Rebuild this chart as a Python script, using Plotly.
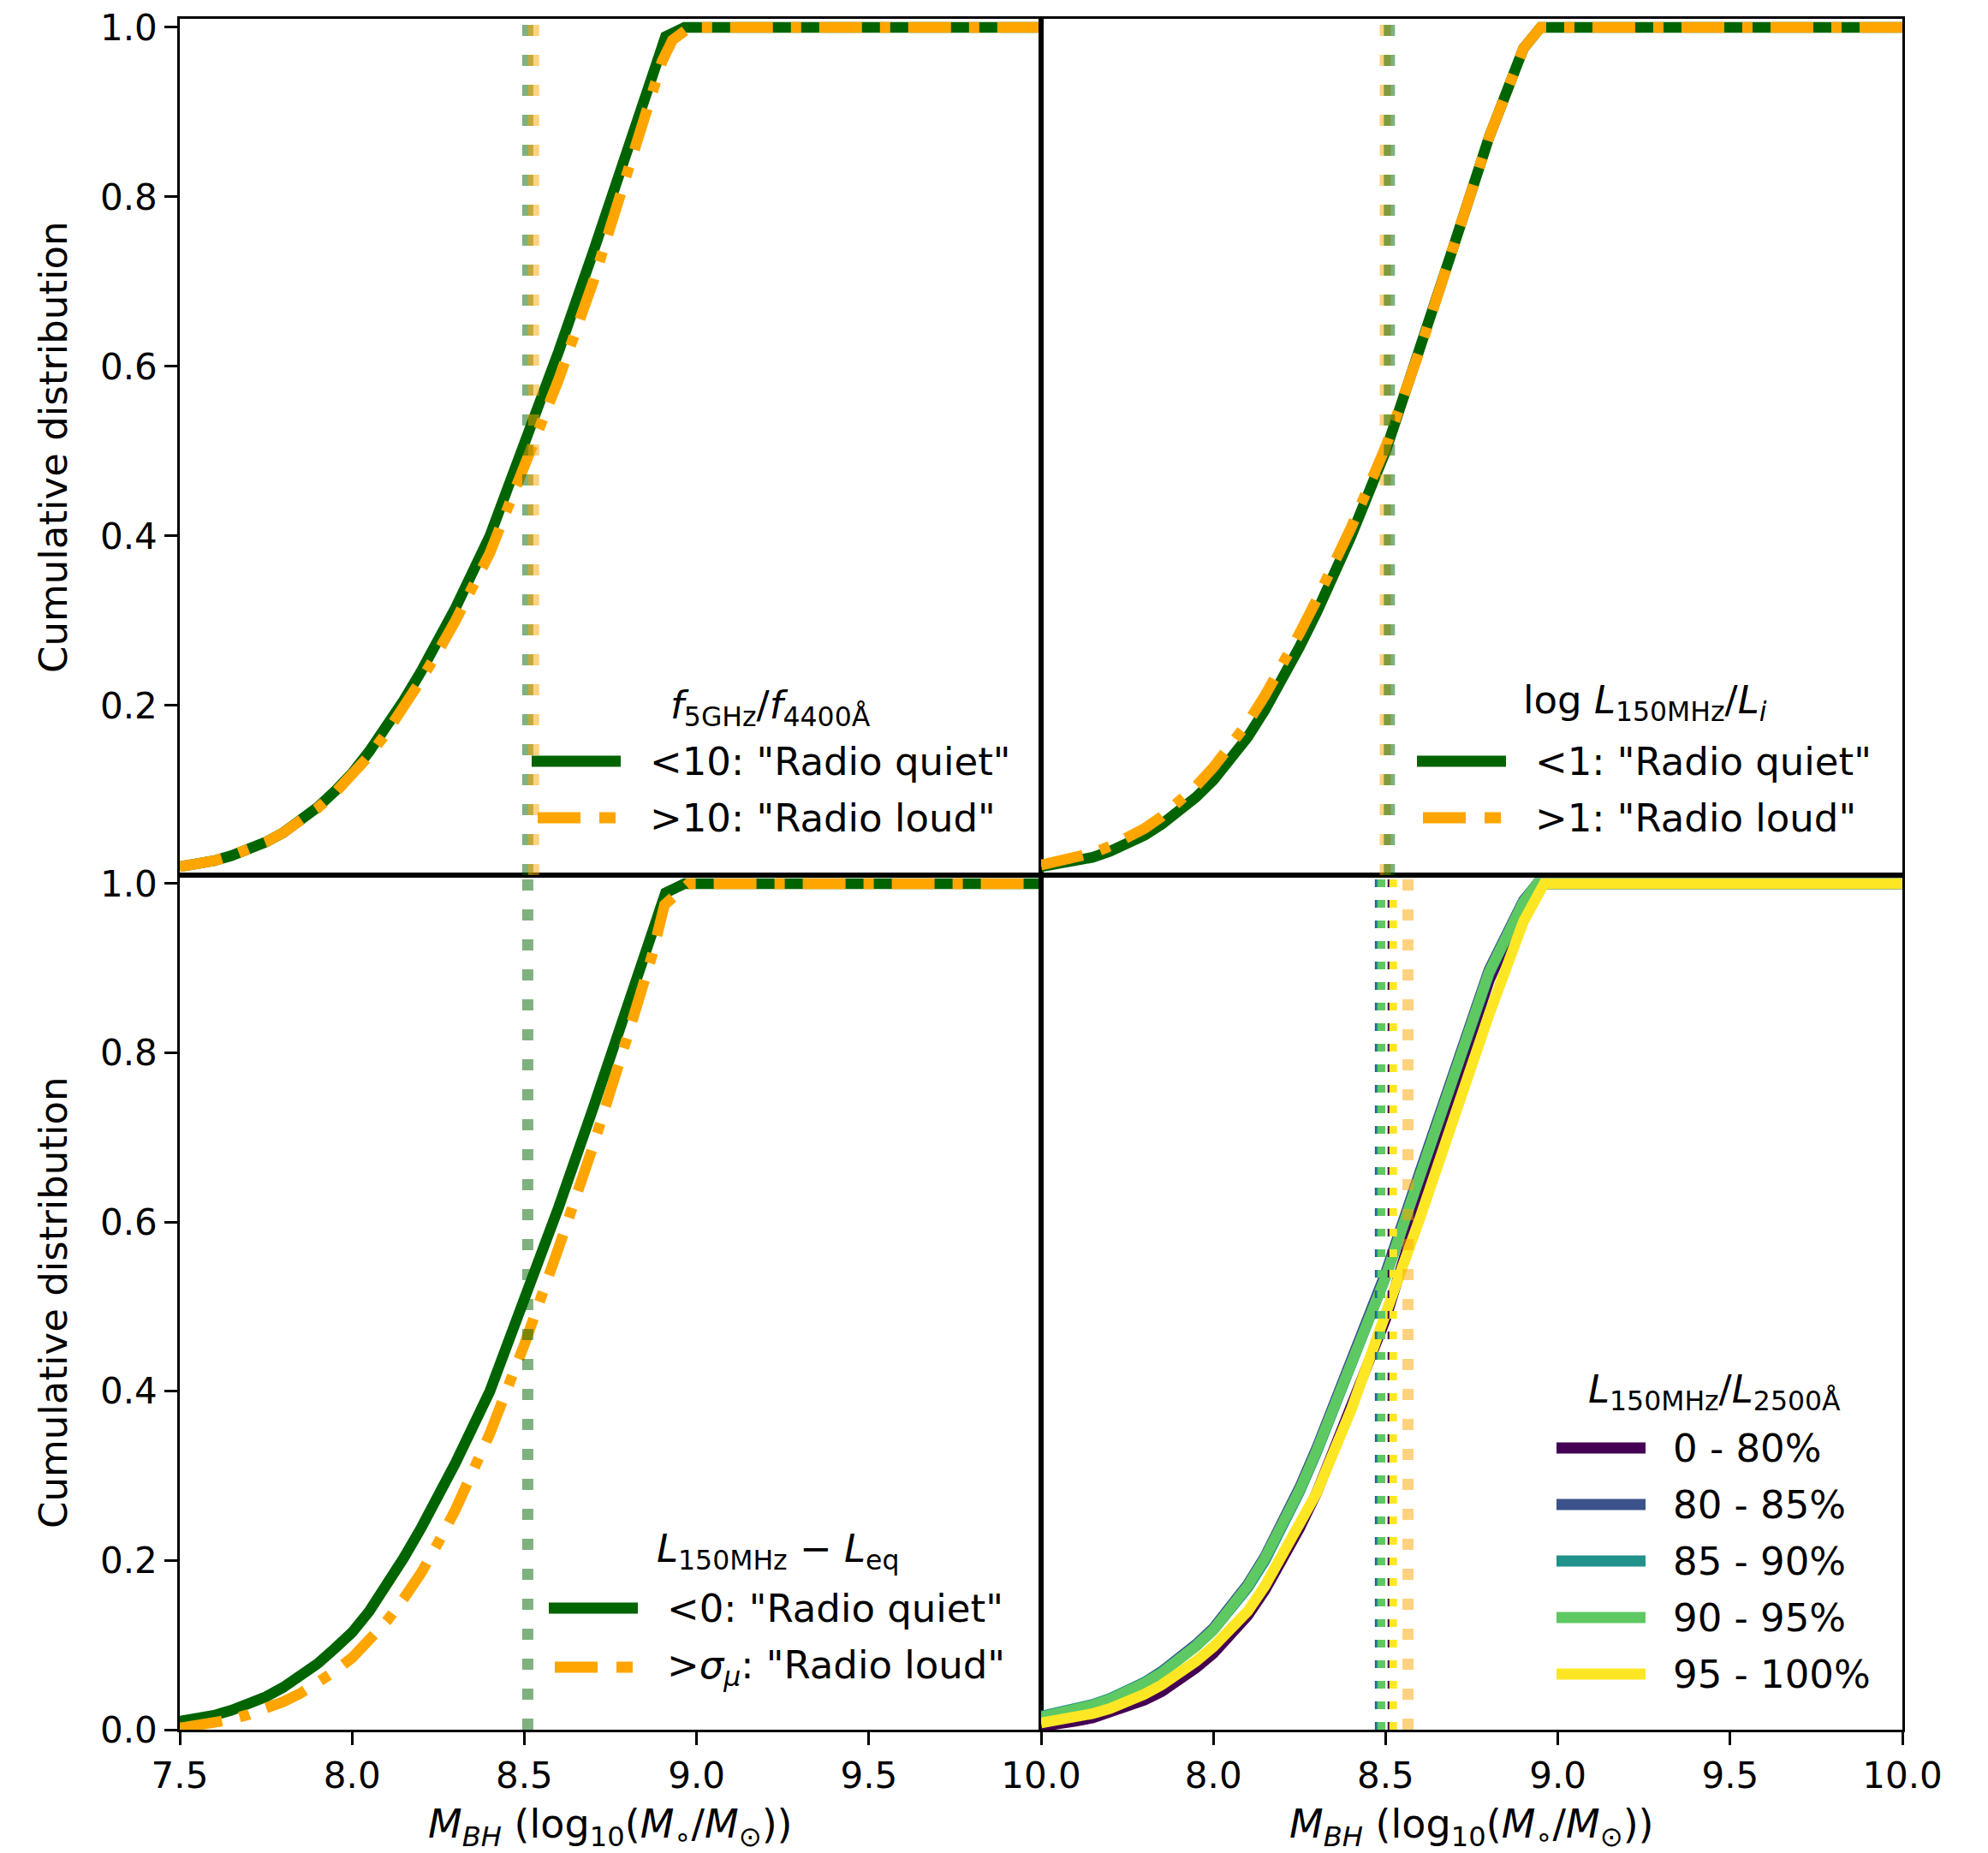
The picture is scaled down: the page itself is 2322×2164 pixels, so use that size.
import plotly.graph_objects as go

W, H = 2322, 2164

# ---------------- data ----------------
fine = [7.5, 7.55, 7.6, 7.65, 7.7, 7.75, 7.8, 7.85, 7.9, 7.95, 8.0, 8.05, 8.1, 8.15,
        8.2, 8.25, 8.3, 8.4, 8.5, 8.6, 8.7, 8.8]

# top-left: f5GHz/f4400A
tl_green_x = fine + [8.86, 8.91, 8.965, 10.0]
tl_green_y = [0.010, 0.013, 0.017, 0.023, 0.030, 0.039, 0.050, 0.064, 0.080, 0.099,
              0.120, 0.146, 0.175, 0.206, 0.240, 0.277, 0.315, 0.400, 0.505, 0.618,
              0.735, 0.860, 0.932, 0.989, 1.0, 1.0]
tl_orange_x = fine + [8.9, 8.93, 8.98, 10.0]
tl_orange_y = [0.010, 0.013, 0.017, 0.023, 0.030, 0.039, 0.050, 0.063, 0.079, 0.097,
               0.117, 0.141, 0.168, 0.197, 0.230, 0.264, 0.300, 0.380, 0.480, 0.585,
               0.700, 0.825, 0.960, 0.985, 1.0, 1.0]
tl_medians = [8.510, 8.527]

# top-right: log L150MHz/Li
tr_green_x = fine + [8.9, 8.95, 10.0]
tr_green_y = [0.010, 0.013, 0.016, 0.021, 0.028, 0.036, 0.047, 0.060, 0.075, 0.092,
              0.112, 0.136, 0.163, 0.195, 0.230, 0.269, 0.310, 0.400, 0.500, 0.620,
              0.745, 0.870, 0.975, 1.0, 1.0]
tr_orange_x = fine + [8.9, 8.95, 10.0]
tr_orange_y = [0.012, 0.016, 0.020, 0.026, 0.034, 0.043, 0.055, 0.069, 0.086, 0.105,
               0.127, 0.152, 0.180, 0.212, 0.247, 0.285, 0.325, 0.410, 0.505, 0.620,
               0.745, 0.870, 0.975, 1.0, 1.0]
tr_medians = [8.511, 8.499]

# bottom-left: L150MHz - Leq
bl_green_x = fine + [8.86, 8.91, 8.965, 10.0]
bl_green_y = [0.010, 0.013, 0.017, 0.023, 0.030, 0.039, 0.050, 0.063, 0.078, 0.096,
              0.115, 0.140, 0.170, 0.203, 0.238, 0.276, 0.315, 0.400, 0.505, 0.618,
              0.735, 0.860, 0.930, 0.989, 1.0, 1.0]
bl_orange_x = fine + [8.87, 8.907, 8.977, 10.0]
bl_orange_y = [0.002, 0.005, 0.008, 0.012, 0.018, 0.025, 0.033, 0.043, 0.055, 0.069,
               0.085, 0.105, 0.128, 0.155, 0.185, 0.221, 0.260, 0.350, 0.455, 0.570,
               0.690, 0.820, 0.914, 0.975, 1.0, 1.0]
bl_medians = [8.510]

# bottom-right: L150MHz/L2500A percentile bins
br_labels = ["0 - 80%", "80 - 85%", "85 - 90%", "90 - 95%", "95 - 100%"]
br_colors = ["#440154", "#3b528b", "#21918c", "#5ec962", "#fde725"]
br_x = [fine + [8.9, 8.94, 10.0]] * 4 + [fine + [8.9, 8.96, 10.0]]
br_y = [
    [0.004, 0.006, 0.010, 0.014, 0.020, 0.027, 0.035, 0.045, 0.058, 0.073, 0.090, 0.111,
     0.135, 0.165, 0.200, 0.238, 0.280, 0.380, 0.485, 0.620, 0.760, 0.885, 0.975, 1.0, 1.0],
    [0.014, 0.018, 0.023, 0.029, 0.036, 0.045, 0.056, 0.069, 0.084, 0.101, 0.120, 0.144,
     0.172, 0.205, 0.243, 0.286, 0.333, 0.435, 0.540, 0.660, 0.780, 0.898, 0.980, 1.0, 1.0],
    [0.016, 0.020, 0.025, 0.030, 0.037, 0.046, 0.056, 0.068, 0.083, 0.099, 0.118, 0.141,
     0.168, 0.200, 0.238, 0.281, 0.328, 0.430, 0.535, 0.655, 0.775, 0.893, 0.978, 1.0, 1.0],
    [0.015, 0.019, 0.024, 0.029, 0.036, 0.045, 0.055, 0.067, 0.082, 0.099, 0.118, 0.142,
     0.170, 0.203, 0.240, 0.283, 0.330, 0.430, 0.535, 0.655, 0.775, 0.895, 0.978, 1.0, 1.0],
    [0.008, 0.011, 0.015, 0.019, 0.025, 0.033, 0.042, 0.053, 0.066, 0.081, 0.098, 0.117,
     0.140, 0.170, 0.205, 0.241, 0.280, 0.378, 0.490, 0.605, 0.725, 0.845, 0.955, 1.0, 1.0],
]
br_medians = [8.517, 8.480, 8.484, 8.488, 8.522]
br_extra_median = 8.565

x_ticks = [7.5, 8.0, 8.5, 9.0, 9.5, 10.0]
y_ticks = [0.0, 0.2, 0.4, 0.6, 0.8, 1.0]

# ---------------- styling ----------------
GREEN = "#006400"
ORANGE = "#FFA500"
GREEN_A = "rgba(0,100,0,0.5)"
ORANGE_A = "rgba(255,165,0,0.5)"
LW = 12.5
DASHDOT = "50px,21px,12px,21px"
DOT = "13px,22px"
FONT = "DejaVu Sans"

def fx(p):
    return p / W

def fy(p):
    return 1 - p / H

XL = [fx(210), fx(1216)]
XR = [fx(1216), fx(2222)]
YT = [fy(1022), fy(22)]
YB = [fy(2020), fy(1022)]

fig = go.Figure()

def add_line(x, y, color, axes, dash="solid"):
    fig.add_trace(go.Scatter(x=x, y=y, mode="lines",
                             line=dict(color=color, width=LW, dash=dash),
                             xaxis=axes[0], yaxis=axes[1], showlegend=False,
                             hoverinfo="skip"))

add_line(tl_green_x, tl_green_y, GREEN, ("x", "y"))
add_line(tl_orange_x, tl_orange_y, ORANGE, ("x", "y"), DASHDOT)
add_line(tr_green_x, tr_green_y, GREEN, ("x2", "y2"))
add_line(tr_orange_x, tr_orange_y, ORANGE, ("x2", "y2"), DASHDOT)
add_line(bl_green_x, bl_green_y, GREEN, ("x3", "y3"))
add_line(bl_orange_x, bl_orange_y, ORANGE, ("x3", "y3"), DASHDOT)
for xs, ys, c in zip(br_x, br_y, br_colors):
    add_line(xs, ys, c, ("x4", "y4"))

shapes = []

def vline(xv, xref, yref, color, width, dash):
    shapes.append(dict(type="line", xref=xref, yref=yref + " domain", x0=xv, x1=xv,
                       y0=0, y1=1, line=dict(color=color, width=width, dash=dash),
                       layer="above"))

vline(tl_medians[0], "x", "y", GREEN_A, 13, DOT)
vline(tl_medians[1], "x", "y", ORANGE_A, 13, DOT)
vline(tr_medians[1], "x2", "y2", ORANGE_A, 13, DOT)
vline(tr_medians[0], "x2", "y2", GREEN_A, 13, DOT)
vline(bl_medians[0], "x3", "y3", GREEN_A, 13, DOT)
for m, c in zip(br_medians, br_colors):
    vline(m, "x4", "y4", c, 9, "9px,15px")
vline(br_extra_median, "x4", "y4", ORANGE_A, 13, DOT)

annotations = []

def text(xp, yp, s, size=45, xanchor="left", angle=0):
    annotations.append(dict(xref="paper", yref="paper", x=fx(xp), y=fy(yp), text=s,
                            showarrow=False, xanchor=xanchor, yanchor="middle",
                            textangle=angle, font=dict(family=FONT, size=size, color="black")))

def seg(x0, x1, yp, color):
    shapes.append(dict(type="line", xref="paper", yref="paper", x0=fx(x0), x1=fx(x1),
                       y0=fy(yp), y1=fy(yp), line=dict(color=color, width=13), layer="above"))

def legend_pair(x0, title_x, title_y, row1, row2, t1, t2, title):
    text(title_x, title_y, title, xanchor="center")
    seg(x0, x0 + 104, row1, GREEN)
    seg(x0 + 7, x0 + 57, row2, ORANGE)
    seg(x0 + 79, x0 + 98, row2, ORANGE)
    text(x0 + 136, row1, t1)
    text(x0 + 136, row2, t2)

legend_pair(621, 900, 826, 889, 955, "&lt;10: \"Radio quiet\"", "&gt;10: \"Radio loud\"",
            "<i>f</i><sub>5GHz</sub>/<i>f</i><sub>4400Å</sub>")
legend_pair(1655, 1921, 820, 889, 955, "&lt;1: \"Radio quiet\"", "&gt;1: \"Radio loud\"",
            "log <i>L</i><sub>150MHz</sub>/<i>L<sub>i</sub></i>")
legend_pair(641, 908, 1811, 1878, 1947, "&lt;0: \"Radio quiet\"",
            "&gt;<i>σ<sub>μ</sub></i>: \"Radio loud\"",
            "<i>L</i><sub>150MHz</sub> − <i>L</i><sub>eq</sub>")

text(2002, 1625, "<i>L</i><sub>150MHz</sub>/<i>L</i><sub>2500Å</sub>", xanchor="center")
rows = [1691, 1757, 1823, 1889, 1955]
for lab, c, r in zip(br_labels, br_colors, rows):
    seg(1818, 1922, r, c)
    text(1952, r, lab)

# axis titles
ytitle = "Cumulative distribution"
text(62, 522, ytitle, size=45, xanchor="center", angle=-90)
text(62, 1521, ytitle, size=45, xanchor="center", angle=-90)
xtitle = "<i>M<sub>BH</sub></i> (log<sub>10</sub>(<i>M</i><sub>∘</sub>/<i>M</i><sub>⊙</sub>))"
text(713, 2133, xtitle, size=46, xanchor="center")
text(1719, 2133, xtitle, size=46, xanchor="center")

tickfont = dict(family=FONT, size=42, color="black")
base = dict(showline=True, mirror=True, linecolor="black", linewidth=3.3,
            showgrid=False, zeroline=False, tickfont=tickfont, automargin=False,
            ticklen=14.6, tickwidth=3.3, tickcolor="black")

def xax(domain, anchor, show):
    d = dict(base, domain=domain, anchor=anchor, range=[7.5, 10.0])
    if show:
        d.update(ticks="outside", tickvals=x_ticks, ticktext=show)
    else:
        d.update(ticks="", showticklabels=False)
    return d

def yax(domain, anchor, vals):
    d = dict(base, domain=domain, anchor=anchor, range=[0, 1.01])
    if vals:
        d.update(ticks="outside", tickvals=vals, ticktext=["%.1f" % v for v in vals])
    else:
        d.update(ticks="", showticklabels=False)
    return d

xlab_left = ["%.1f" % v for v in x_ticks]
xlab_right = [""] + ["%.1f" % v for v in x_ticks[1:]]

fig.update_layout(
    template="none",
    width=W, height=H, margin=dict(l=0, r=0, t=0, b=0, pad=0, autoexpand=False),
    paper_bgcolor="white", plot_bgcolor="white",
    font=dict(family=FONT, color="black"),
    showlegend=False,
    xaxis=xax(XL, "y", None),
    yaxis=yax(YT, "x", y_ticks[1:]),
    xaxis2=xax(XR, "y2", None),
    yaxis2=yax(YT, "x2", None),
    xaxis3=xax(XL, "y3", xlab_left),
    yaxis3=yax(YB, "x3", y_ticks),
    xaxis4=xax(XR, "y4", xlab_right),
    yaxis4=yax(YB, "x4", None),
    shapes=shapes,
    annotations=annotations,
)

fig.write_html("out.html")
